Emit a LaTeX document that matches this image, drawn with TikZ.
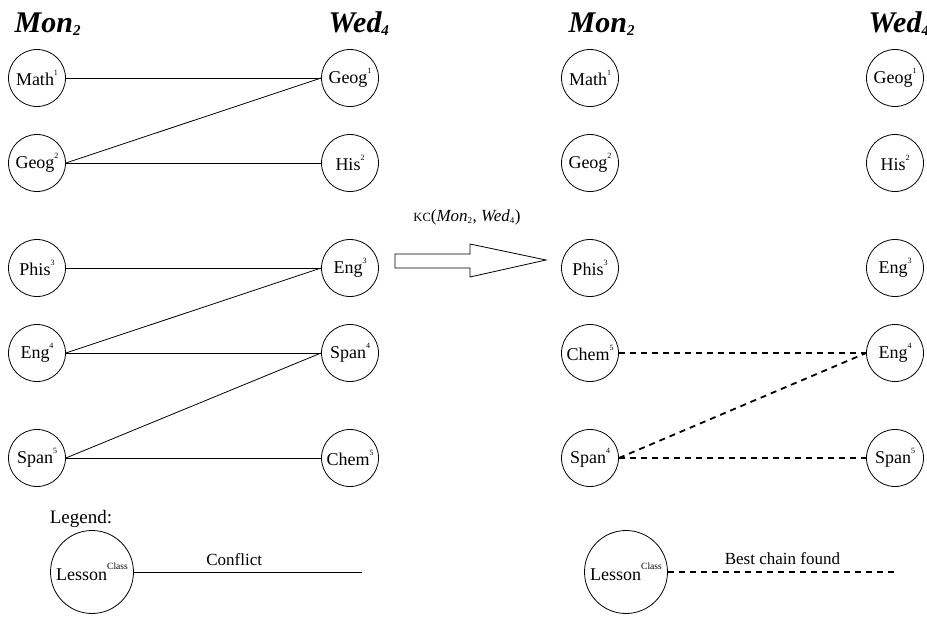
\documentclass[tikz,border=0pt]{standalone}
\usepackage{fontspec}
\setmainfont{Liberation Serif}
\usetikzlibrary{positioning}

\newcommand{\lsn}[2]{#1\raisebox{0.55em}{\fontsize{8}{8}\selectfont #2}}

\begin{document}
\begin{tikzpicture}[x=1pt,y=-1pt,line width=0.8pt,
    lesson/.style={draw,circle,minimum size=57pt,inner sep=0pt,font=\fontsize{18}{20}\selectfont},
    keyles/.style={lesson,minimum size=83pt},
    dayname/.style={anchor=base west,font=\fontsize{30}{32}\selectfont\bfseries\itshape},
    txt/.style={font=\fontsize{17}{19}\selectfont},
    chain/.style={line width=1.8pt,dash pattern=on 6pt off 5pt}]

    \useasboundingbox (0,0) rectangle (927,619);

    % before
    \node[dayname] (mon) at (11,32) {Mon\textsubscript{\fontsize{15}{15}\selectfont 2}};
    \node[dayname] (wed) at (325,32) {Wed\textsubscript{\fontsize{15}{15}\selectfont 4}};

    \node[lesson] (math1) at (37,78) {\lsn{Math}{1}};
    \node[lesson] (geog2) at (37,163) {\lsn{Geog}{2}};
    \node[lesson] (phis3) at (37,268) {\lsn{Phis}{3}};
    \node[lesson] (eng4) at (37,353) {\lsn{Eng}{4}};
    \node[lesson] (span5) at (37,458) {\lsn{Span}{5}};

    \node[lesson] (geog1) at (350,78) {\lsn{Geog}{1}};
    \node[lesson] (his2) at (350,163) {\lsn{His}{2}};
    \node[lesson] (eng3) at (350,268) {\lsn{Eng}{3}};
    \node[lesson] (span4) at (350,353) {\lsn{Span}{4}};
    \node[lesson] (chem5) at (350,458) {\lsn{Chem}{5}};

    \draw (math1.east) -- (geog1.west);
    \draw (geog2.east) -- (geog1.west);
    \draw (geog2.east) -- (his2.west);
    \draw (phis3.east) -- (eng3.west);
    \draw (eng4.east) -- (eng3.west);
    \draw (eng4.east) -- (span4.west);
    \draw (span5.east) -- (span4.west);
    \draw (span5.east) -- (chem5.west);

    % kempe chain
    \node[font=\fontsize{17}{19}\selectfont] (kc) at (467,217)
        {{\fontsize{12.5}{13}\selectfont KC}(\textit{Mon}\textsubscript{\fontsize{9}{9}\selectfont 2}, \textit{Wed}\textsubscript{\fontsize{9}{9}\selectfont 4})};
    \draw (395,254) -- (470,254) -- (470,244) -- (546,260) -- (470,277) -- (470,268) -- (395,268) -- cycle;

    % after
    \node[dayname] (rmon) at (565,32) {Mon\textsubscript{\fontsize{15}{15}\selectfont 2}};
    \node[dayname] (rwed) at (865,32) {Wed\textsubscript{\fontsize{15}{15}\selectfont 4}};

    \node[lesson] (rmath1) at (590,78) {\lsn{Math}{1}};
    \node[lesson] (rgeog2) at (590,163) {\lsn{Geog}{2}};
    \node[lesson] (rphis3) at (590,268) {\lsn{Phis}{3}};
    \node[lesson] (rchem5) at (590,353) {\lsn{Chem}{5}};
    \node[lesson] (rspan4) at (590,458) {\lsn{Span}{4}};

    \node[lesson] (rgeog1) at (895,78) {\lsn{Geog}{1}};
    \node[lesson] (rhis2) at (895,163) {\lsn{His}{2}};
    \node[lesson] (reng3) at (895,268) {\lsn{Eng}{3}};
    \node[lesson] (reng4) at (895,353) {\lsn{Eng}{4}};
    \node[lesson] (rspan5) at (895,458) {\lsn{Span}{5}};

    \draw[chain] (rchem5.east) -- (reng4.west);
    \draw[chain] (rspan4.east) -- (reng4.west);
    \draw[chain] (rspan4.east) -- (rspan5.west);

    % legend
    \node[font=\fontsize{19}{21}\selectfont] (legend) at (81,519) {Legend:};
    \node[keyles] (key1) at (92,572) {Lesson\raisebox{0.6em}{\fontsize{9.5}{9.5}\selectfont Class}};
    \coordinate (key1end) at (362,572);
    \draw (key1.east) -- node[txt,above=3pt,pos=0.44] (conf) {Conflict} (key1end);

    \node[keyles] (key2) at (626,572) {Lesson\raisebox{0.6em}{\fontsize{9.5}{9.5}\selectfont Class}};
    \coordinate (key2end) at (897,572);
    \draw[chain] (key2.east) -- node[txt,above=3pt] (best) {Best chain found} (key2end);
\end{tikzpicture}
\end{document}
